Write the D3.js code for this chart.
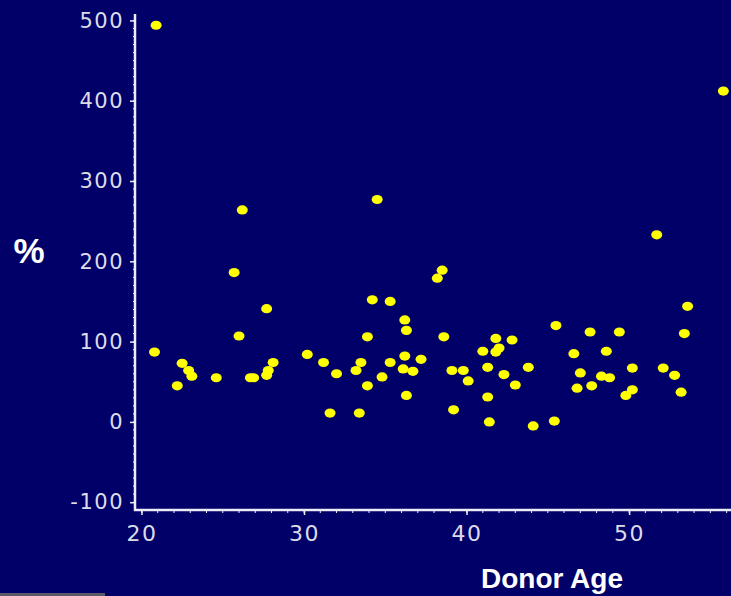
<!DOCTYPE html>
<html>
<head>
<meta charset="utf-8">
<script src="https://cdn.jsdelivr.net/npm/d3@7"></script>
<style>
  html, body { margin: 0; padding: 0; background: #000068; }
  svg { display: block; }
</style>
</head>
<body>
<svg id="chart" width="731" height="596"></svg>
<script>
// donor age (years) and % values
var donorAge = [
  20.9, 26.2, 25.7, 27.7, 26.0, 20.8, 22.5, 22.9, 23.1, 22.2,
  24.6, 26.7, 26.9, 28.1, 27.8, 27.7, 30.2, 31.2, 32.0, 31.6,
  33.4, 33.2, 33.5, 33.9, 33.9, 34.2, 34.5, 34.8, 35.3, 35.3,
  36.2, 36.1, 36.2, 36.3, 36.3, 36.7, 37.2, 38.2, 38.5, 38.6,
  39.1, 39.2, 39.8, 40.1, 41.0, 41.3, 41.3, 41.4, 41.8, 42.0,
  41.8, 42.8, 42.3, 43.0, 43.8, 44.1, 45.4, 45.5, 46.6, 46.8,
  47.0, 47.6, 47.7, 48.3, 48.6, 48.8, 49.4, 50.2, 50.2, 49.8,
  51.7, 52.1, 52.8, 53.2, 53.6, 53.4, 55.8
];
var percent = [
  494, 264, 186, 141, 107, 87, 73, 64, 57, 45,
  55, 55, 55, 74, 64, 58, 84, 74, 60, 11,
  11, 64, 74, 106, 45, 152, 277, 56, 150, 74,
  82, 66, 127, 114, 33, 63, 78, 179, 189, 106,
  64, 15, 64, 51, 88, 68, 31, 0, 104, 92,
  87, 102, 59, 46, 68, -5, 1, 120, 85, 42,
  61, 112, 45, 57, 88, 55, 112, 67, 40, 33,
  233, 67, 58, 37, 144, 110, 412
];
var yTicks = [-100, 0, 100, 200, 300, 400, 500];
var xTicks = [20, 30, 40, 50];

var svg = d3.select("#chart"),
    width = +svg.attr("width"),
    height = +svg.attr("height");

var plotLeft = 135, plotRight = 731, plotTop = 14, plotBottom = 510;
var axisColor = "#ececf4";

var x = d3.scaleLinear().domain([19.6, 56.27]).range([plotLeft, plotRight]);
var y = d3.scaleLinear().domain([-109.7, 508]).range([plotBottom, plotTop]);

svg.append("rect")
  .attr("width", width).attr("height", height)
  .style("fill", "#000068");

// minor ticks
svg.append("g")
  .selectAll("line")
  .data(d3.range(-100, 501, 10))
  .enter().append("line")
  .attr("x1", plotLeft - 2).attr("x2", plotLeft)
  .attr("y1", function(d) { return y(d); })
  .attr("y2", function(d) { return y(d); })
  .style("stroke", axisColor).style("stroke-width", 1);

svg.append("g")
  .selectAll("line")
  .data(d3.range(20, 57, 1))
  .enter().append("line")
  .attr("x1", function(d) { return x(d); })
  .attr("x2", function(d) { return x(d); })
  .attr("y1", plotBottom).attr("y2", plotBottom + 3)
  .style("stroke", axisColor).style("stroke-width", 1);

// y axis (plain hyphen for negatives, like the original)
var yAxis = svg.append("g")
  .attr("transform", "translate(" + plotLeft + ",0)")
  .call(d3.axisLeft(y).tickValues(yTicks).tickSize(5).tickPadding(6).tickSizeOuter(0)
    .tickFormat(function(d) { return String(d); }));
yAxis.select(".domain").remove();
yAxis.selectAll(".tick line").style("stroke", axisColor).style("stroke-width", 1.5);
yAxis.selectAll(".tick text")
  .style("fill", "#dcdce8")
  .style("font-family", "DejaVu Sans")
  .style("font-size", "21px")
  .style("letter-spacing", "1.5px");

// x axis
var xAxis = svg.append("g")
  .attr("transform", "translate(0," + plotBottom + ")")
  .call(d3.axisBottom(x).tickValues(xTicks).tickSize(5).tickPadding(10).tickSizeOuter(0));
xAxis.select(".domain").remove();
xAxis.selectAll(".tick line").style("stroke", axisColor).style("stroke-width", 1.5);
xAxis.selectAll(".tick text")
  .style("fill", "#dcdce8")
  .style("font-family", "DejaVu Sans")
  .style("font-size", "22px")
  .style("letter-spacing", "1.5px");

// axis lines
svg.append("line")
  .attr("x1", plotLeft).attr("x2", plotLeft)
  .attr("y1", plotTop).attr("y2", plotBottom + 1)
  .style("stroke", axisColor).style("stroke-width", 2.5);
svg.append("line")
  .attr("x1", plotLeft - 1).attr("x2", plotRight)
  .attr("y1", plotBottom).attr("y2", plotBottom)
  .style("stroke", axisColor).style("stroke-width", 2.5);

// points
var data = donorAge.map(function(a, i) { return [a, percent[i]]; });
svg.append("g")
  .selectAll("ellipse")
  .data(data)
  .enter()
  .append("ellipse")
  .attr("cx", function(d) { return x(d[0]); })
  .attr("cy", function(d) { return y(d[1]); })
  .attr("rx", 5.5)
  .attr("ry", 4.6)
  .style("fill", "#ffff00");

// axis titles
svg.append("text")
  .attr("x", 29).attr("y", 263)
  .attr("text-anchor", "middle")
  .style("fill", "#ffffff")
  .style("font-family", "Liberation Sans")
  .style("font-weight", "bold")
  .style("font-size", "35px")
  .text("%");

svg.append("text")
  .attr("x", 552).attr("y", 588)
  .attr("text-anchor", "middle")
  .style("fill", "#ffffff")
  .style("font-family", "Liberation Sans")
  .style("font-weight", "bold")
  .style("font-size", "28px")
  .text("Donor Age");

svg.append("rect")
  .attr("x", 0).attr("y", 593).attr("width", 105).attr("height", 3)
  .style("fill", "#5a5a66");
</script>
</body>
</html>
